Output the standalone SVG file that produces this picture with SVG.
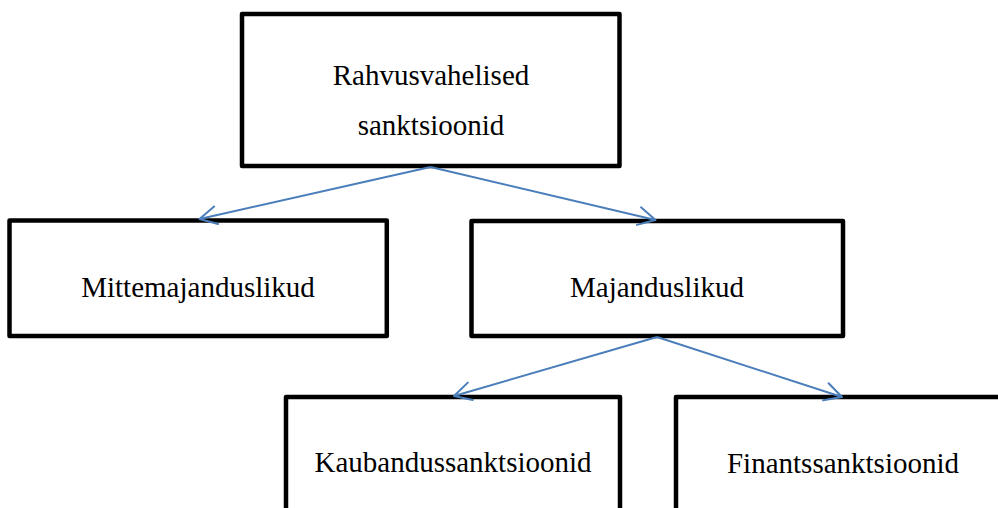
<svg xmlns="http://www.w3.org/2000/svg" width="998" height="508" viewBox="0 0 998 508">
<style>
.box{fill:#fff;stroke:#000;stroke-width:4.5;stroke-linejoin:round}
.lbl{font-family:"Liberation Serif","Times New Roman",serif;font-size:29px;fill:#000;text-anchor:middle}
.conn{fill:none;stroke:#4A7EBB;stroke-width:2;marker-end:url(#arr)}
</style>
<defs>
<marker id="arr" markerUnits="userSpaceOnUse" viewBox="-20 -11 22 22" refX="0" refY="0" markerWidth="22" markerHeight="22" orient="auto">
<path d="M-17,-9 L0,0 L-17,9" fill="none" stroke="#4A7EBB" stroke-width="2" stroke-linecap="round" stroke-linejoin="round"/>
</marker>
</defs>
<rect width="998" height="508" fill="#fff"/>
<g id="n-rahvusvahelised">
<rect class="box" x="242" y="14" width="377.5" height="152"/>
<text class="lbl" x="431" y="85">Rahvusvahelised</text>
<text class="lbl" x="431" y="135">sanktsioonid</text>
</g>
<g id="n-mittemajanduslikud">
<rect class="box" x="9.5" y="220.5" width="377.3" height="115.5"/>
<text class="lbl" x="198" y="297">Mittemajanduslikud</text>
</g>
<g id="n-majanduslikud">
<rect class="box" x="471.5" y="221" width="371.5" height="115"/>
<text class="lbl" x="657" y="297">Majanduslikud</text>
</g>
<g id="n-kaubandus">
<rect class="box" x="286" y="397" width="334" height="200"/>
<text class="lbl" x="453" y="472">Kaubandussanktsioonid</text>
</g>
<g id="n-finants">
<rect class="box" x="676" y="397" width="334" height="200"/>
<text class="lbl" x="843" y="473">Finantssanktsioonid</text>
</g>
<g id="connectors">
<line class="conn" x1="430.5" y1="167" x2="199.5" y2="219"/>
<line class="conn" x1="430.5" y1="167" x2="655.5" y2="220"/>
<line class="conn" x1="657" y1="337" x2="454" y2="396"/>
<line class="conn" x1="657" y1="337" x2="842" y2="397"/>
</g>
</svg>
